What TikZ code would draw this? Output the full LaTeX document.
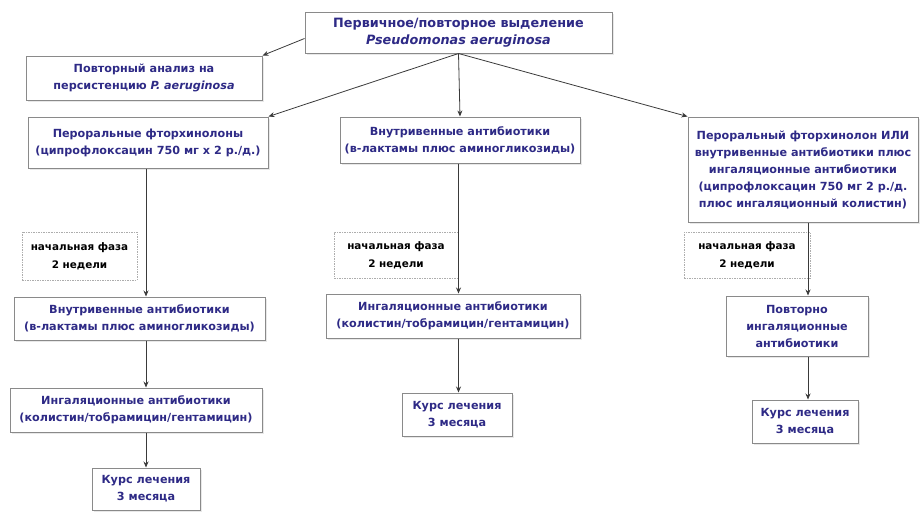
\documentclass[tikz,border=0pt]{standalone}
\usepackage{fontspec}
\setmainfont{DejaVu Sans}
\usetikzlibrary{arrows.meta,shadows}
\definecolor{boxtext}{HTML}{2E2A86}
\definecolor{boxline}{HTML}{8A8A8A}
\definecolor{linkline}{HTML}{3A3A3A}
\tikzset{
  stepbox/.style={draw=boxline, line width=1pt, fill=white, align=center,
    text=boxtext, font=\bfseries\fontsize{11.2}{17}\selectfont, inner sep=0pt,
    drop shadow={opacity=0.18, shadow xshift=1.5pt, shadow yshift=-1.5pt}},
  phasebox/.style={draw=boxline!70, dashed, dash pattern=on 1.5pt off 1pt, line width=0.6pt,
    fill=white, align=center, text=black, font=\bfseries\fontsize{10.4}{18}\selectfont, inner sep=0pt},
  link/.style={draw=linkline, line width=0.8pt, -{Stealth[length=6pt,width=5pt]}}
}
\begin{document}
\begin{tikzpicture}[x=1pt,y=-1pt]
\useasboundingbox (0,0) rectangle (920,515);

% top box
\node[stepbox, minimum width=307pt, minimum height=41pt,
      font=\bfseries\fontsize{12.8}{17}\selectfont] (top) at (458.5,32.5)
  {Первичное/повторное выделение\\\textit{Pseudomonas aeruginosa}};
\node[stepbox, minimum width=236pt, minimum height=44pt] (repeat) at (144,78)
  {Повторный анализ на\\персистенцию \textit{P. aeruginosa}};

% left column
\node[stepbox, minimum width=240pt, minimum height=51pt] (L1) at (148,142.5)
  {Пероральные фторхинолоны\\(ципрофлоксацин 750 мг x 2 р./д.)};
\node[phasebox, minimum width=115pt, minimum height=48pt] (LP) at (79.5,256)
  {начальная фаза\\2 недели};
\node[stepbox, minimum width=251pt, minimum height=43pt] (L2) at (139.5,318.5)
  {Внутривенные антибиотики\\(в-лактамы плюс аминогликозиды)};
\node[stepbox, minimum width=252pt, minimum height=44pt] (L3) at (136,410)
  {Ингаляционные антибиотики\\(колистин/тобрамицин/гентамицин)};
\node[stepbox, minimum width=108pt, minimum height=42pt] (L4) at (146,489)
  {Курс лечения\\3 месяца};

% middle column
\node[stepbox, minimum width=240pt, minimum height=46pt] (M1) at (460,140)
  {Внутривенные антибиотики\\(в-лактамы плюс аминогликозиды)};
\node[phasebox, minimum width=124pt, minimum height=46pt] (MP) at (396,255)
  {начальная фаза\\2 недели};
\node[stepbox, minimum width=254pt, minimum height=44pt] (M2) at (453,316)
  {Ингаляционные антибиотики\\(колистин/тобрамицин/гентамицин)};
\node[stepbox, minimum width=110pt, minimum height=43pt] (M3) at (457,414.5)
  {Курс лечения\\3 месяца};

% right column
\node[stepbox, minimum width=230pt, minimum height=105pt] (R1) at (803,169.5)
  {Пероральный фторхинолон ИЛИ\\внутривенные антибиотики плюс\\ингаляционные антибиотики\\(ципрофлоксацин 750 мг 2 р./д.\\плюс ингаляционный колистин)};
\node[phasebox, minimum width=126pt, minimum height=46pt] (RP) at (747,255)
  {начальная фаза\\2 недели};
\node[stepbox, minimum width=142pt, minimum height=60pt] (R2) at (797,326)
  {Повторно\\ингаляционные\\антибиотики};
\node[stepbox, minimum width=106pt, minimum height=43pt] (R3) at (805,421.5)
  {Курс лечения\\3 месяца};

% connectors
\draw[link] (top.west) ++(0,6) coordinate (topw) -- (repeat.north east);
\draw[link] (top.south) -- (L1.north east);
\draw[link] (top.south) -- (M1.north);
\draw[link] (top.south) -- (R1.north west);

\draw[link] (L1.south -| L4.north) -- (L2.north -| L4.north);
\draw[link] (L2.south -| L4.north) -- (L3.north -| L4.north);
\draw[link] (L3.south -| L4.north) -- (L4.north);

\draw[link] (M1.south -| top.south) -- (M2.north -| top.south);
\draw[link] (M2.south -| top.south) -- (M3.north -| top.south);

\draw[link] (R1.south -| R3.north) ++(3,0) coordinate (rx) -- (R2.north -| rx);
\draw[link] (R2.south -| rx) -- (R3.north -| rx);
\end{tikzpicture}
\end{document}
